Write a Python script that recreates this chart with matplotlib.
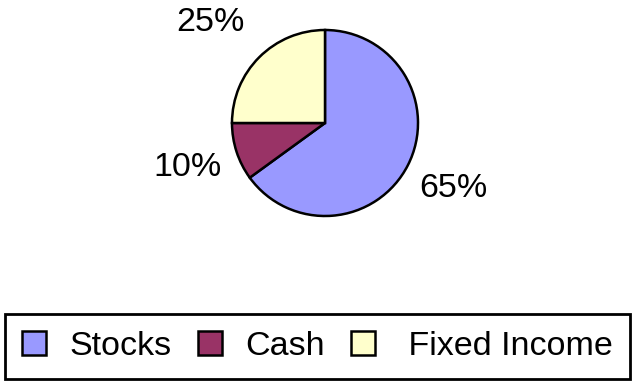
import matplotlib
matplotlib.use("Agg")
import matplotlib.pyplot as plt
import numpy as np

categories = ["Stocks", "Cash", "Fixed Income"]
values = [65, 10, 25]
colors = ["#9999FF", "#993366", "#FFFFCC"]

plt.rcParams['font.family'] = ['Liberation Sans', 'DejaVu Sans']

fig = plt.figure(figsize=(6.34, 3.83), dpi=100)
ax = fig.add_axes([232/634, (383-216)/383, 186/634, 186/383])

wedges, texts, autotexts = ax.pie(
    values, colors=colors, startangle=90, counterclock=False,
    autopct='%.0f%%', pctdistance=1.55,
    wedgeprops=dict(edgecolor='black', linewidth=1.8),
    textprops=dict(fontsize=24.5, color='black'))
# nudge the top label outward to the left
x, y = autotexts[2].get_position()
autotexts[2].set_position((x * 1.12, y * 0.99))
ax.set_xlim(-1, 1)
ax.set_ylim(-1, 1)
ax.set_aspect('equal')

leg_labels = ["Stocks", "Cash", " Fixed Income"]
leg = fig.legend(wedges, leg_labels, ncol=3, loc='center',
                 bbox_to_anchor=(5/634, (383-380)/383, 625/634, 67/383),
                 mode='expand', frameon=True, fancybox=False, framealpha=1,
                 edgecolor='black', fontsize=24.5, handlelength=0.7,
                 handleheight=0.7, handletextpad=0.7, columnspacing=0.7,
                 borderpad=0.5, borderaxespad=0)
leg.get_frame().set_linewidth(2)
for h in leg.legend_handles:
    h.set_linewidth(1.8)

fig.savefig("out.png", dpi=100)
